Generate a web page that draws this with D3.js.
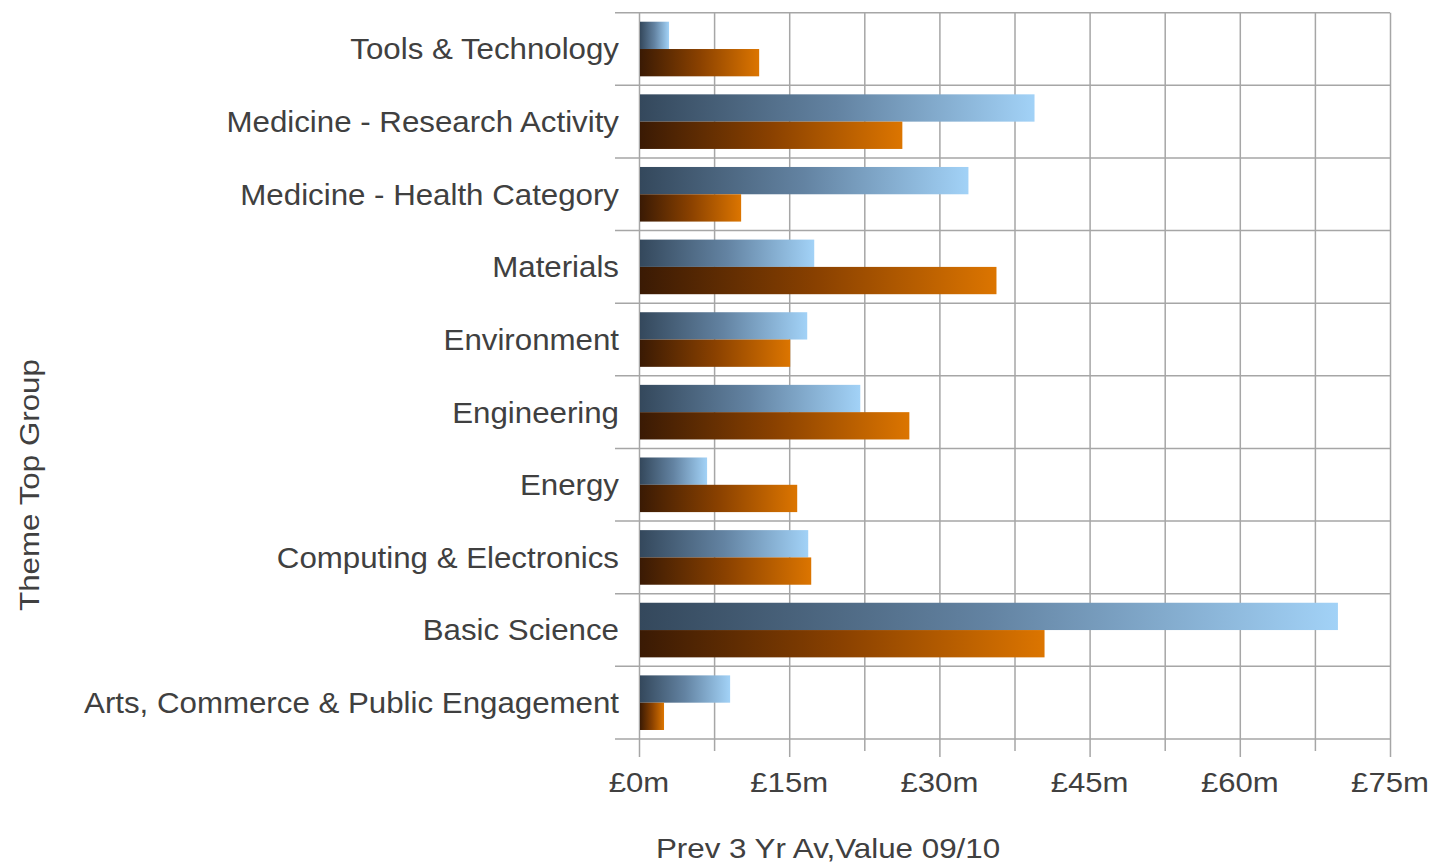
<!DOCTYPE html>
<html>
<head>
<meta charset="utf-8">
<script src="https://cdn.jsdelivr.net/npm/d3@7"></script>
<style>
  html, body { margin: 0; padding: 0; background: #ffffff; }
  svg { display: block; }
  text { font-family: "Liberation Sans", Arial, sans-serif; fill: #404040; }
</style>
</head>
<body>
<svg id="chart" width="1434" height="865"></svg>
<script>
// Theme groups, top to bottom
const categories = [
  "Tools & Technology",
  "Medicine - Research Activity",
  "Medicine - Health Category",
  "Materials",
  "Environment",
  "Engineering",
  "Energy",
  "Computing & Electronics",
  "Basic Science",
  "Arts, Commerce & Public Engagement"
];

// Values in £m
const prev3YrAv = [2.9, 39.4, 32.8, 17.4, 16.7, 22.0, 6.7, 16.8, 69.7, 9.0];
const value0910 = [11.9, 26.2, 10.1, 35.6, 15.0, 26.9, 15.7, 17.1, 40.4, 2.4];

const seriesKeys = ["Prev 3 Yr Av", "Value 09/10"];
const xTickValues = [0, 7.5, 15, 22.5, 30, 37.5, 45, 52.5, 60, 67.5, 75];
const xLabelValues = [0, 15, 30, 45, 60, 75];

const rows = categories.map((c, i) => ({
  category: c,
  values: [
    { key: seriesKeys[0], value: prev3YrAv[i] },
    { key: seriesKeys[1], value: value0910[i] }
  ]
}));

const svg = d3.select("#chart");
const plotLeft = 639, plotRight = 1390, plotTop = 12.7, plotBottom = 739;
const textStretch = 1.078;

const x = d3.scaleLinear().domain([0, 75]).range([plotLeft, plotRight]);
const y = d3.scaleBand().domain(categories).range([plotTop, plotBottom]).padding(0);
const ySub = d3.scaleBand().domain(seriesKeys).range([0, y.bandwidth()])
  .paddingInner(0).paddingOuter(0.33);

// Gradients: dark on the left, light on the right
const defs = svg.append("defs");
const gradStops = {
  "grad-blue": ["#34485c", "#6383a2", "#a2d2f7"],
  "grad-orange": ["#3a1a04", "#8a4100", "#dc7500"]
};
Object.entries(gradStops).forEach(([id, cols]) => {
  const g = defs.append("linearGradient").attr("id", id)
    .attr("x1", "0%").attr("x2", "100%").attr("y1", "0%").attr("y2", "0%");
  g.append("stop").attr("offset", "0%").attr("stop-color", cols[0]);
  g.append("stop").attr("offset", "50%").attr("stop-color", cols[1]);
  g.append("stop").attr("offset", "100%").attr("stop-color", cols[2]);
});
const fillFor = { [seriesKeys[0]]: "url(#grad-blue)", [seriesKeys[1]]: "url(#grad-orange)" };

const gridColor = "#a6a6a6";

// Vertical grid lines with tick marks below the plot
const xAxis = d3.axisBottom(x)
  .tickValues(xTickValues)
  .tickSize(0)
  .tickFormat("");
const gx = svg.append("g").attr("transform", `translate(0,${plotBottom})`).call(xAxis);
gx.select(".domain").remove();
gx.selectAll(".tick line").remove();
gx.selectAll(".tick").append("line")
  .attr("y1", -(plotBottom - plotTop))
  .attr("y2", d => xLabelValues.includes(d) ? 18 : 12)
  .attr("stroke", gridColor)
  .attr("stroke-width", 1.5);

// Horizontal grid lines at row boundaries, extended left as ticks
const rowEdges = categories.map(c => y(c)).concat([plotBottom]);
svg.append("g").selectAll("line").data(rowEdges).join("line")
  .attr("x1", 615).attr("x2", plotRight)
  .attr("y1", d => d).attr("y2", d => d)
  .attr("stroke", gridColor)
  .attr("stroke-width", 1.5);

// Bars
const groups = svg.append("g").selectAll("g").data(rows).join("g")
  .attr("transform", d => `translate(0,${y(d.category)})`);
groups.selectAll("rect").data(d => d.values).join("rect")
  .attr("x", x(0) + 1)
  .attr("y", d => ySub(d.key))
  .attr("width", d => x(d.value) - x(0))
  .attr("height", ySub.bandwidth())
  .attr("fill", d => fillFor[d.key]);

// Category labels
svg.append("g").selectAll("text").data(categories).join("text")
  .attr("transform", d => `translate(619,${y(d) + y.bandwidth() / 2}) scale(${textStretch},1)`)
  .attr("dy", "0.36em")
  .attr("text-anchor", "end")
  .attr("font-size", 29)
  .text(d => d);

// X tick labels
svg.append("g").selectAll("text").data(xLabelValues).join("text")
  .attr("transform", d => `translate(${x(d)},792) scale(1.11,1)`)
  .attr("text-anchor", "middle")
  .attr("font-size", 28)
  .text(d => `£${d}m`);

// Axis titles
svg.append("text")
  .attr("transform", `translate(828,858) scale(1.1,1)`)
  .attr("text-anchor", "middle")
  .attr("font-size", 28.5)
  .text("Prev 3 Yr Av,Value 09/10");

svg.append("text")
  .attr("transform", "translate(39,485) rotate(-90) scale(1.1,1)")
  .attr("text-anchor", "middle")
  .attr("font-size", 28.5)
  .text("Theme Top Group");
</script>
</body>
</html>
